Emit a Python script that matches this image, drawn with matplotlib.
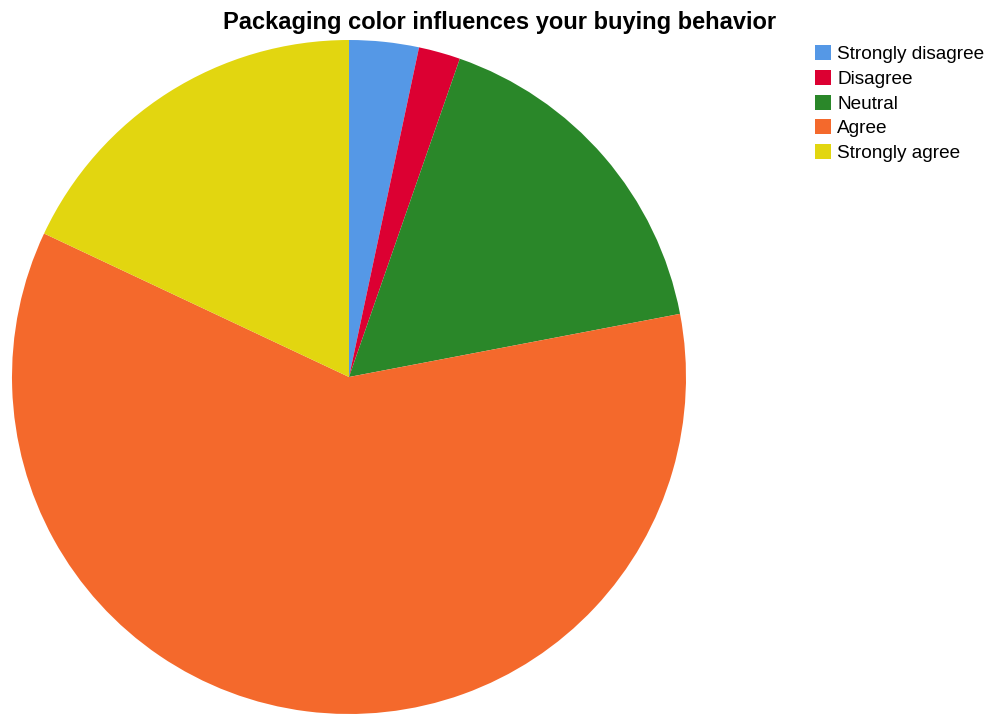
import matplotlib.pyplot as plt

# survey answers (number of respondents)
labels = ['Strongly disagree', 'Disagree', 'Neutral', 'Agree', 'Strongly agree']
counts = [5, 3, 25, 90, 27]
colors = ['#5598e6', '#dc0032', '#2a8729', '#f4692c', '#e2d610']

plt.rcParams['font.family'] = ['Liberation Sans', 'DejaVu Sans']

fig = plt.figure(figsize=(9.86, 7.15), dpi=100)
W, H = 986, 715

# pie: centre (349, 377) px, radius 337 px
cx, cy, r = 349, 377, 337
ax = fig.add_axes([(cx - r) / W, (H - cy - r) / H, 2 * r / W, 2 * r / H])
wedges, _ = ax.pie(counts, colors=colors, startangle=90, counterclock=False,
                   radius=1, wedgeprops={'linewidth': 0})
ax.set_xlim(-1, 1)
ax.set_ylim(-1, 1)
ax.set_aspect('equal')
ax.axis('off')

fig.text(500 / W, 1 - 22 / H, 'Packaging color influences your buying behavior',
         ha='center', va='center', fontsize=17, fontweight='bold')

leg = fig.legend(wedges, labels, loc='upper left',
                 bbox_to_anchor=(815 / W, 1 - 45 / H), frameon=False,
                 fontsize=13.7, handlelength=0.84, handleheight=0.84,
                 handletextpad=0.32, labelspacing=0.35, borderpad=0,
                 borderaxespad=0)

fig.savefig('out.png', dpi=100)
